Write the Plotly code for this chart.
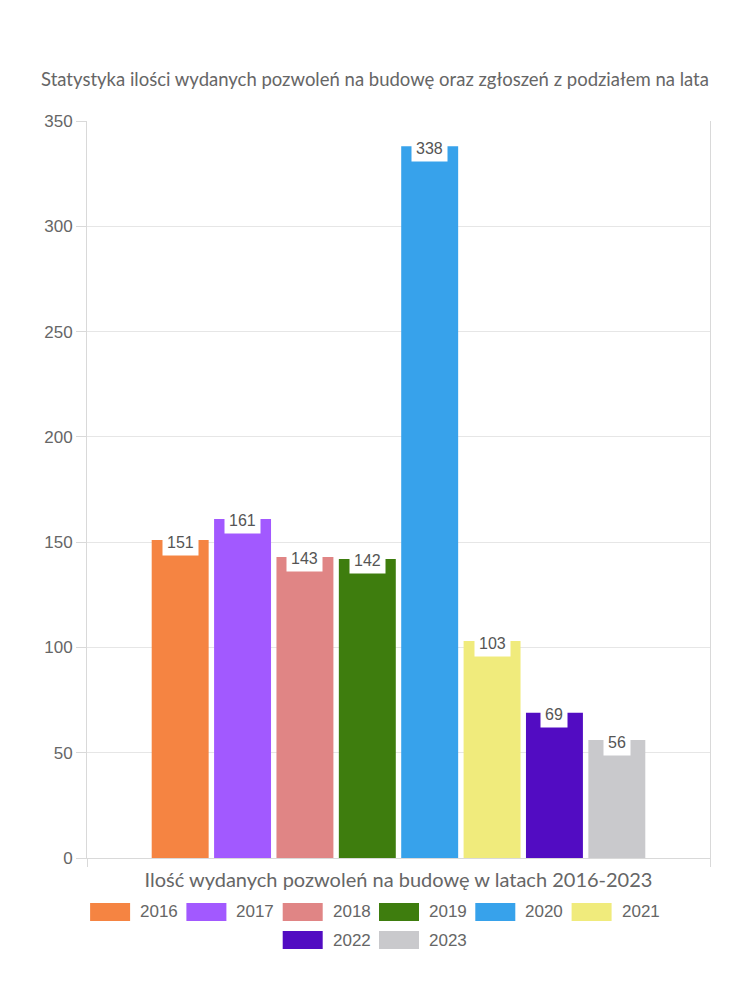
import plotly.graph_objects as go

category = "Ilość wydanych pozwoleń na budowę w latach 2016-2023"
years = ["2016", "2017", "2018", "2019", "2020", "2021", "2022", "2023"]
values = [151, 161, 143, 142, 338, 103, 69, 56]
colors = ["#F58442", "#A259FF", "#E08585", "#3E7D0E", "#37A2EB", "#F0EB7C", "#520CC2", "#C9C9CC"]
title = "Statystyka ilości wydanych pozwoleń na budowę oraz zgłoszeń z podziałem na lata"
y_ticks = [0, 50, 100, 150, 200, 250, 300, 350]

W, H = 750, 1000
ML, MR, MT, MB = 87, 40, 121, 142
PW, PH = W - ML - MR, H - MT - MB
BARGAP, GROUPGAP = 0.199, 0.087

TEXT_FONT = "Lato"
NUM_FONT = "Liberation Sans"
GRAY = "#666666"

fig = go.Figure()
for yr, v, c in zip(years, values, colors):
    fig.add_trace(go.Bar(x=[category], y=[v], name=yr, marker=dict(color=c, line=dict(width=0)),
                         showlegend=False, hoverinfo="y+name"))

annotations = []
n = len(years)
slot = (1 - BARGAP) / n
for i, v in enumerate(values):
    xc = -(1 - BARGAP) / 2 + (i + 0.5) * slot
    annotations.append(dict(x=xc, y=v, xref="x", yref="y", text=str(v), showarrow=False,
                            yanchor="middle", yshift=-2, bgcolor="white", borderpad=4,
                            font=dict(family=NUM_FONT, size=16, color="#555555")))

# custom legend (large swatches)
pitch = 96.3
sw_w, sw_h = 40, 18
rows = [years[:6], years[6:]]
row_y = [912, 940]
shapes = []
for r, row in enumerate(rows):
    total = len(row) * pitch - 8
    start = W / 2 - total / 2
    for j, yr in enumerate(row):
        idx = years.index(yr)
        x0 = start + j * pitch
        yc = row_y[r]
        shapes.append(dict(type="rect", xref="paper", yref="paper",
                           x0=(x0 - ML) / PW, x1=(x0 + sw_w - ML) / PW,
                           y0=((H - MB) - (yc + sw_h / 2)) / PH,
                           y1=((H - MB) - (yc - sw_h / 2)) / PH,
                           fillcolor=colors[idx], line=dict(width=0)))
        annotations.append(dict(x=(x0 + sw_w + 8 - ML) / PW, y=((H - MB) - yc) / PH,
                                xref="paper", yref="paper", xanchor="left", yanchor="middle",
                                text=yr, showarrow=False,
                                font=dict(family=NUM_FONT, size=17, color=GRAY)))

fig.update_layout(
    width=W, height=H,
    margin=dict(l=ML, r=MR, t=MT, b=MB, pad=0),
    paper_bgcolor="white", plot_bgcolor="white",
    barmode="group", bargap=BARGAP, bargroupgap=GROUPGAP,
    title=dict(text=title, x=0.5, xref="container", y=1 - 80 / H, yref="container",
               xanchor="center", yanchor="middle",
               font=dict(family=TEXT_FONT, size=18.5, color="#666666")),
    showlegend=False,
    annotations=annotations,
    shapes=shapes,
)
fig.update_xaxes(type="category", tickson="boundaries", ticks="outside", ticklen=8,
                 tickcolor="#d9d9d9", showline=True, linecolor="#d9d9d9", linewidth=1,
                 showgrid=False, tickfont=dict(family=TEXT_FONT, size=20, color="#666666"),
                 ticklabelstandoff=4, mirror=False)
fig.update_yaxes(range=[0, 350], tickvals=y_ticks, ticks="outside", ticklen=10,
                 tickcolor="#d9d9d9", showline=True, linecolor="#d9d9d9", mirror=True,
                 gridcolor="#e6e6e6", zeroline=False,
                 tickfont=dict(family=NUM_FONT, size=17, color=GRAY))

fig.write_html("out.html")
